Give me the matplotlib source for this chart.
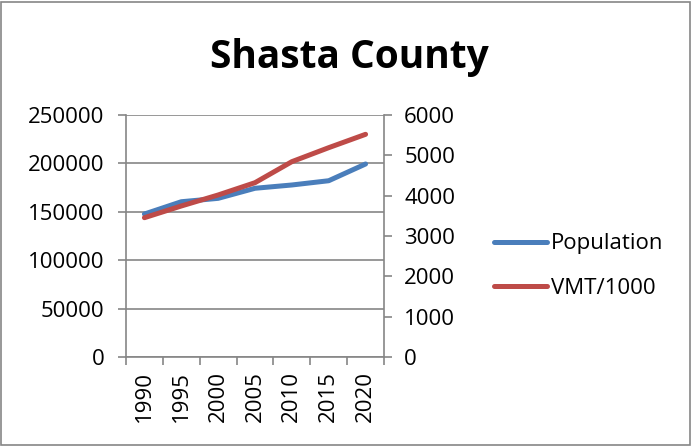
import matplotlib
matplotlib.use("Agg")
import matplotlib.pyplot as plt
from matplotlib.patches import Rectangle

years = ["1990", "1995", "2000", "2005", "2010", "2015", "2020"]
population = [147700, 160400, 163900, 174300, 177700, 182100, 199400]
vmt_1000 = [3454, 3744, 4017, 4322, 4843, 5190, 5521]
left_ticks = [0, 50000, 100000, 150000, 200000, 250000]
right_ticks = [0, 1000, 2000, 3000, 4000, 5000, 6000]

plt.rcParams['font.family'] = ['Open Sans', 'DejaVu Sans']
FS = 16
W, H = 692, 446
fig = plt.figure(figsize=(W / 100, H / 100), dpi=100)
fig.patches.append(Rectangle((1 / W, 1 / H), 1 - 3 / W, 1 - 3 / H, transform=fig.transFigure,
                             fill=False, edgecolor='#868686', linewidth=1.2))

x0, x1, y0, y1 = 126, 384, 115, 357
ax = fig.add_axes([x0 / W, 1 - y1 / H, (x1 - x0) / W, (y1 - y0) / H])
ax2 = ax.twinx()

grid_c = '#868686'
xs = list(range(len(years)))
l1, = ax.plot(xs, population, color='#4A7EBB', linewidth=3.6, solid_capstyle='round', label='Population')
l2, = ax2.plot(xs, vmt_1000, color='#BE4B48', linewidth=3.6, solid_capstyle='round', label='VMT/1000')

ax.set_xlim(-0.5, len(years) - 0.5)
ax.set_ylim(0, 250000)
ax2.set_ylim(0, 6000)
ax.set_yticks(left_ticks)
ax.set_yticklabels([str(t) for t in left_ticks], fontsize=FS)
ax2.set_yticks(right_ticks)
ax2.set_yticklabels([str(t) for t in right_ticks], fontsize=FS)
ax.set_xticks(xs)
ax.set_xticklabels(years, rotation=90, fontsize=FS)
ax.set_xticks([i - 0.5 for i in range(len(years) + 1)], minor=True)
ax.tick_params(axis='x', which='major', length=0, pad=10)
ax.tick_params(axis='x', which='minor', length=5.5, color=grid_c, width=1.2)
ax.tick_params(axis='y', length=5.5, color=grid_c, width=1.2, pad=10)
ax2.tick_params(axis='y', length=5.5, color=grid_c, width=1.2, pad=9)
ax.grid(axis='y', color=grid_c, linewidth=1.2)
ax.set_axisbelow(True)
for a in (ax, ax2):
    a.spines['top'].set_visible(False)
    for s in ('left', 'right', 'bottom'):
        a.spines[s].set_color(grid_c)
        a.spines[s].set_linewidth(1.2)
ax.spines['right'].set_visible(False)
ax2.spines['left'].set_visible(False)
ax2.spines['bottom'].set_visible(False)

fig.text(349 / W, 1 - 68 / H, 'Shasta County', ha='center', va='baseline', fontsize=28, fontweight='bold')

fig.legend(handles=[l1, l2], loc='center left', bbox_to_anchor=(474 / W, 1 - 266 / H),
           frameon=False, fontsize=FS, handlelength=2.4, handletextpad=0.15, labelspacing=1.05)

fig.savefig('out.png', dpi=100)
